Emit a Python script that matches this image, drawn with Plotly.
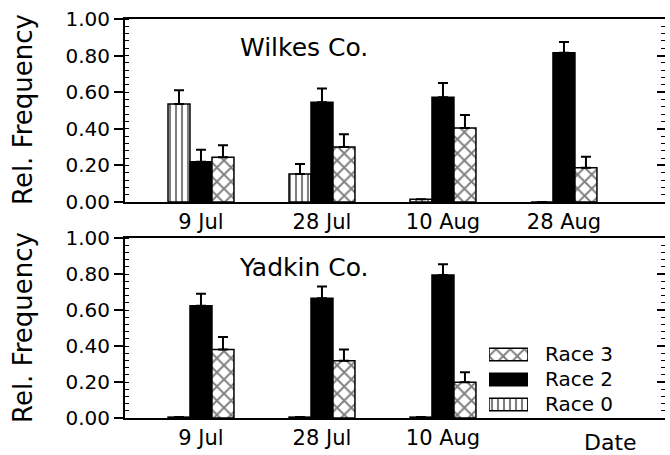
import plotly.graph_objects as go

dates = ["9 Jul", "28 Jul", "10 Aug", "28 Aug"]
dates_yadkin = ["9 Jul", "28 Jul", "10 Aug"]

# Wilkes Co.
wilkes_r0 = [0.535, 0.153, 0.015, 0.0]
wilkes_r0_err = [0.075, 0.055, 0.0, 0.0]
wilkes_r2 = [0.22, 0.545, 0.573, 0.815]
wilkes_r2_err = [0.065, 0.075, 0.077, 0.06]
wilkes_r3 = [0.245, 0.30, 0.405, 0.187]
wilkes_r3_err = [0.065, 0.07, 0.07, 0.06]

# Yadkin Co.
yadkin_r0 = [0.005, 0.005, 0.005]
yadkin_r0_err = [0.0, 0.0, 0.0]
yadkin_r2 = [0.624, 0.665, 0.794]
yadkin_r2_err = [0.066, 0.065, 0.06]
yadkin_r3 = [0.38, 0.318, 0.198]
yadkin_r3_err = [0.07, 0.062, 0.056]

legend_names = ["Race 3", "Race 2", "Race 0"]
yticks = [0.0, 0.2, 0.4, 0.6, 0.8, 1.0]

W, H = 670, 455
FONT = "DejaVu Sans"

def px_x(p):
    return p / W

def px_y(p):
    return 1 - p / H

styles = {
    "Race 0": dict(marker=dict(color="white", line=dict(color="black", width=1.5),
                               pattern=dict(shape="|", size=6, solidity=0.35, fgcolor="black", bgcolor="white"))),
    "Race 2": dict(marker=dict(color="black", line=dict(color="black", width=1.5))),
    "Race 3": dict(marker=dict(color="white", line=dict(color="black", width=1.5),
                               pattern=dict(shape="x", size=10, solidity=0.35, fgcolor="black", bgcolor="white"))),
}

fig = go.Figure()

def add_bars(x, vals, errs, name, xa, ya):
    fig.add_trace(go.Bar(
        x=x, y=vals, name=name, showlegend=False, xaxis=xa, yaxis=ya,
        error_y=dict(type="data", array=errs, arrayminus=[0] * len(errs), symmetric=False,
                     color="black", thickness=2, width=5, visible=True),
        **styles[name]))

add_bars(dates, wilkes_r0, wilkes_r0_err, "Race 0", "x", "y")
add_bars(dates, wilkes_r2, wilkes_r2_err, "Race 2", "x", "y")
add_bars(dates, wilkes_r3, wilkes_r3_err, "Race 3", "x", "y")
add_bars(dates_yadkin, yadkin_r0, yadkin_r0_err, "Race 0", "x2", "y2")
add_bars(dates_yadkin, yadkin_r2, yadkin_r2_err, "Race 2", "x2", "y2")
add_bars(dates_yadkin, yadkin_r3, yadkin_r3_err, "Race 3", "x2", "y2")

# custom legend swatches
for i, nm in enumerate(legend_names):
    st = styles[nm]
    fig.add_trace(go.Bar(x=[1], y=[i], orientation="h", width=0.5, showlegend=False,
                         xaxis="x3", yaxis="y3", hoverinfo="skip", **st))

# dummy traces to activate right-side tick axes
fig.add_trace(go.Scatter(x=[dates[0]], y=[None], xaxis="x", yaxis="y4", showlegend=False, hoverinfo="skip"))
fig.add_trace(go.Scatter(x=[dates[0]], y=[None], xaxis="x2", yaxis="y5", showlegend=False, hoverinfo="skip"))

xdom = [px_x(125), px_x(665)]
xr = [-0.628, 3.835]
top_dom = [px_y(202), px_y(19)]
bot_dom = [px_y(418), px_y(238)]

common_x = dict(type="category", range=xr, showline=True, linecolor="black", linewidth=2,
                mirror=True, ticks="", tickfont=dict(family=FONT, size=21, color="black"),
                showgrid=False, zeroline=False, categoryorder="array", categoryarray=dates,
                automargin=False)
common_y = dict(range=[0, 1], tickvals=yticks, tickformat=".2f", showline=True, linecolor="black",
                linewidth=2, ticks="outside", ticklen=9, tickwidth=1.5, tickcolor="black",
                minor=dict(dtick=0.04, ticks="inside", ticklen=4, tickcolor="black", tickwidth=1, showgrid=False),
                tickfont=dict(family=FONT, size=20, color="black"), showgrid=False, zeroline=False,
                automargin=False)
right_y = dict(range=[0, 1], tickvals=yticks, showticklabels=False, side="right", ticks="inside",
               ticklen=8, tickwidth=1.5, tickcolor="black", showline=False, showgrid=False, zeroline=False,
               automargin=False,
               minor=dict(dtick=0.04, ticks="inside", ticklen=4, tickcolor="black", tickwidth=1, showgrid=False))

fig.update_layout(
    width=W, height=H, margin=dict(l=0, r=0, t=0, b=0, autoexpand=False),
    paper_bgcolor="white", plot_bgcolor="white",
    barmode="group", bargap=0.455, bargroupgap=0,
    xaxis=dict(domain=xdom, anchor="y", tickvals=dates, **common_x),
    yaxis=dict(domain=top_dom, anchor="x", **common_y),
    xaxis2=dict(domain=xdom, anchor="y2", tickvals=dates_yadkin, **common_x),
    yaxis2=dict(domain=bot_dom, anchor="x2", **common_y),
    yaxis4=dict(overlaying="y", anchor="x", **right_y),
    yaxis5=dict(overlaying="y2", anchor="x2", **right_y),
    xaxis3=dict(domain=[px_x(489), px_x(528)], range=[0, 1], visible=False, anchor="y3", automargin=False),
    yaxis3=dict(domain=[px_y(417), px_y(342)], range=[2.5, -0.5], visible=False, anchor="x3", automargin=False),
    showlegend=False,
)

ann_font = dict(family=FONT, size=25, color="black")
anns = [
    dict(text="Wilkes Co.", x=px_x(304), y=px_y(48)),
    dict(text="Yadkin Co.", x=px_x(304), y=px_y(267)),
    dict(text="Date", x=px_x(610), y=px_y(442), font=dict(family=FONT, size=22, color="black")),
    dict(text="Rel. Frequency", x=px_x(23), y=px_y(110), textangle=-90, font=dict(family=FONT, size=26, color="black")),
    dict(text="Rel. Frequency", x=px_x(23), y=px_y(328), textangle=-90, font=dict(family=FONT, size=26, color="black")),
]
for i, nm in enumerate(legend_names):
    anns.append(dict(text=nm, x=px_x(543), y=px_y(354 + 25 * i), xanchor="left", font=dict(family=FONT, size=20, color="black")))
for a in anns:
    a.setdefault("xanchor", "center")
    a.setdefault("font", ann_font)
    fig.add_annotation(xref="paper", yref="paper", yanchor="middle", showarrow=False, **a)

fig.write_html("out.html")
